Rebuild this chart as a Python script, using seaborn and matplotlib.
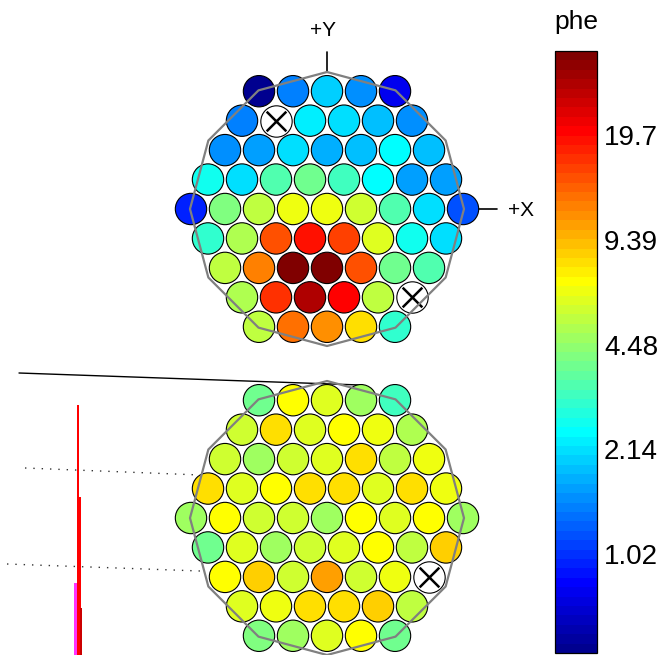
import numpy as np
import pandas as pd
import matplotlib
matplotlib.use("Agg")
import matplotlib.pyplot as plt
from matplotlib.colors import ListedColormap, LogNorm
import matplotlib.cm as cm
import seaborn as sns

sns.set_style("white")
plt.rcParams['font.family'] = ['Liberation Sans', 'DejaVu Sans']
plt.rcParams['text.color'] = 'black'
plt.rcParams['ytick.color'] = 'black'
plt.rcParams['ytick.labelcolor'] = 'black'

nan = np.nan
# ---------------- data (phe per PMT, row by row, NaN = disabled PMT) ----------------
row_counts = [5, 6, 7, 8, 9, 8, 7, 6, 5]
top_values = [
    [0.52, 1.45, 2.0, 1.5, 0.77],
    [1.45, nan, 2.33, 2.06, 1.91, 1.53],
    [1.53, 1.64, 2.06, 1.79, 1.85, 2.4, 1.91],
    [2.58, 2.15, 3.3, 3.86, 3.1, 2.45, 1.58, 1.58],
    [0.95, 4.25, 5.37, 6.55, 6.55, 5.57, 3.3, 2.15, 1.16],
    [2.94, 5.0, 14.6, 18.4, 15.5, 6.1, 2.58, 2.06],
    [5.37, 12.3, 35.0, 34.0, 14.6, 3.95, 3.4],
    [5.0, 16.6, 27.4, 20.3, 5.37, nan],
    [5.37, 12.9, 11.2, 8.26, 2.94],
]
bottom_values = [
    [3.95, 7.0, 5.95, 4.8, 3.1],
    [5.77, 8.26, 5.95, 7.0, 6.55, 5.0],
    [5.77, 4.8, 5.77, 5.95, 8.0, 5.2, 6.55],
    [8.26, 6.1, 7.0, 7.74, 8.26, 6.1, 8.0, 6.55],
    [4.8, 7.0, 5.77, 5.57, 4.8, 7.0, 6.1, 7.0, 4.8],
    [3.8, 6.1, 4.7, 5.77, 6.1, 7.2, 5.37, 8.83],
    [7.0, 8.83, 5.77, 10.1, 5.77, 6.55, nan],
    [5.95, 6.55, 7.74, 8.26, 8.83, 5.37],
    [4.1, 4.8, 6.1, 7.0, 3.95],
]
cbar_ticks = [1.02, 2.14, 4.48, 9.39, 19.7]
cbar_labels = ["1.02", "2.14", "4.48", "9.39", "19.7"]
cbar_range = [0.506, 35.7]
axis_labels = ["+Y", "+X"]
cbar_title = "phe"

# remnant histogram fragments at lower left (pixel units)
rem_x = [74.0, 77.0, 79.0, 80.0]
rem_w = [3.5, 2.0, 1.5, 2.0]
rem_top = [583, 405, 497, 608]
rem_col = ['#ff33ff', '#ff0000', '#ff0000', '#cc0000']

# ---------------- layout ----------------
W, H = 664, 655
pitch = 34.0
centers = {"top": (327.0, 209.0), "bottom": (327.0, 518.0)}
R_poly = 137.0


def matlab_jet(m=64):
    n = int(np.ceil(m / 4))
    u = np.concatenate([np.arange(1, n + 1) / n, np.ones(n - 1), np.arange(n, 0, -1) / n])
    g = int(np.ceil(n / 2)) - (1 if m % 4 == 1 else 0) + np.arange(1, len(u) + 1)
    r = g + n
    b = g - n
    J = np.zeros((m, 3))
    J[r[r <= m] - 1, 0] = u[r <= m]
    J[g[g <= m] - 1, 1] = u[g <= m]
    J[b[b > 0] - 1, 2] = u[b > 0]
    return ListedColormap(J)


cmap = matlab_jet(64)
norm = LogNorm(vmin=cbar_range[0], vmax=cbar_range[1])


def build(values, center):
    cx, cy = center
    rows = []
    for r, (n, vals) in enumerate(zip(row_counts, values)):
        for i, v in enumerate(vals):
            x = cx + (i - (n - 1) / 2) * pitch
            y = cy + (r - 4) * pitch * np.sqrt(3) / 2
            rows.append((x, y, v))
    return pd.DataFrame(rows, columns=["x", "y", "phe"])


fig = plt.figure(figsize=(W / 100, H / 100), dpi=100)
ax = fig.add_axes([0, 0, 1, 1])
ax.set_xlim(0, W)
ax.set_ylim(H, 0)
ax.axis('off')

# remnant lines from an adjacent panel
ax.plot([19, 360], [373, 385], color='black', lw=1.0, zorder=1)
ax.plot([25, 200], [468, 475], color='#333333', lw=1.0, ls=(0, (1, 5)), zorder=1)
ax.plot([7, 200], [564, 571], color='#333333', lw=1.0, ls=(0, (1, 5)), zorder=1)
ax.bar(rem_x, [H - t for t in rem_top], bottom=rem_top, width=rem_w, align='edge',
       color=rem_col, linewidth=0, zorder=1)

for key, vals in [("top", top_values), ("bottom", bottom_values)]:
    df = build(vals, centers[key])
    ok = df.dropna()
    dead = df[df["phe"].isna()]
    sns.scatterplot(data=ok, x="x", y="y", hue="phe", hue_norm=norm, palette=cmap,
                    s=510, edgecolor='black', linewidth=0.8, legend=False, ax=ax, zorder=3)
    sns.scatterplot(data=dead, x="x", y="y", color='white', s=510, edgecolor='black',
                    linewidth=0.8, legend=False, ax=ax, zorder=3)
    sns.scatterplot(data=dead, x="x", y="y", color='black', marker='x', s=200,
                    linewidth=1.8, legend=False, ax=ax, zorder=4)
    cx, cy = centers[key]
    ang = np.deg2rad(90 + 30 * np.arange(13))
    ax.plot(cx + R_poly * np.cos(ang), cy - R_poly * np.sin(ang), color='#808080',
            lw=1.6, zorder=5)

# axis direction markers on the top array
cx, cy = centers["top"]
ax.plot([cx, cx], [cy - R_poly - 20, cy - R_poly], color='black', lw=1.2, zorder=2)
ax.text(cx - 4, cy - R_poly - 42, axis_labels[0], ha='center', va='center', fontsize=15,
        color='black')
ax.plot([cx + R_poly, cx + R_poly + 33], [cy, cy], color='black', lw=1.2, zorder=2)
ax.text(cx + R_poly + 57, cy + 1, axis_labels[1], ha='center', va='center', fontsize=15,
        color='black')

# colorbar
cax = fig.add_axes([555 / W, (H - 653) / H, 42 / W, 602 / H])
sm = cm.ScalarMappable(norm=norm, cmap=cmap)
cb = fig.colorbar(sm, cax=cax)
cb.outline.set_linewidth(0.9)
cb.outline.set_edgecolor('black')
cb.set_ticks(cbar_ticks)
cb.set_ticklabels(cbar_labels)
cax.yaxis.set_minor_locator(matplotlib.ticker.NullLocator())
cax.tick_params(axis='y', which='major', direction='in', left=True, right=True,
                labelleft=False, labelright=True, length=4, width=0.8,
                labelsize=20, pad=5, colors='black')
fig.text(576 / W, 1 - 22 / H, cbar_title, ha='center', va='center', fontsize=19,
         color='black')

fig.savefig("out.png", dpi=100)
